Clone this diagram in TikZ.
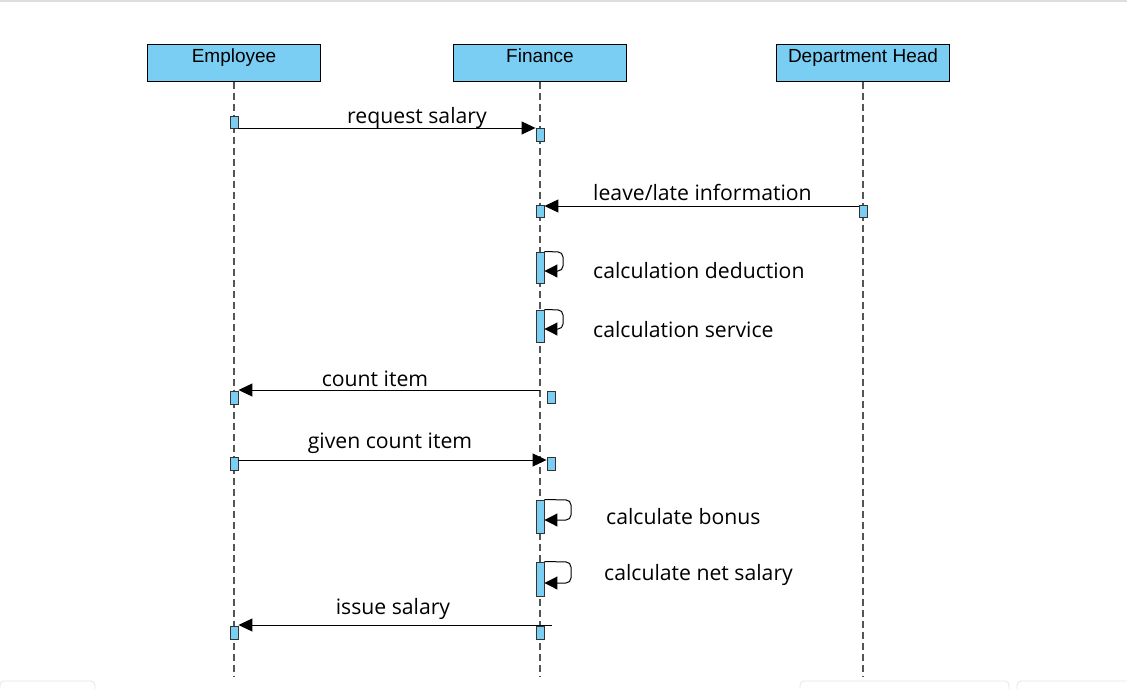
\documentclass[tikz,border=0pt]{standalone}
\usepackage{fontspec}
\setmainfont{Open Sans}
\newfontfamily\headfont{Liberation Sans}
\usetikzlibrary{arrows.meta}
\definecolor{actblue}{RGB}{122,206,244}
\definecolor{lifegray}{RGB}{85,85,85}
\tikzset{
  x=1pt, y=-1pt,
  header/.style={draw=black, line width=1pt, fill=actblue, minimum width=173pt, minimum height=37pt, inner sep=0pt},
  headtxt/.style={font=\headfont\fontsize{19}{22}\selectfont, inner sep=0pt, anchor=base},
  lifeline/.style={draw=lifegray, line width=1.3pt, dash pattern=on 7pt off 4pt},
  act/.style={draw=black!80, line width=0.9pt, fill=actblue, inner sep=0pt, minimum width=8pt},
  msg/.style={draw=black, line width=1pt, -{Triangle[length=14pt,width=13pt]}},
  selfmsg/.style={draw=black, line width=1pt, rounded corners=5pt, -{Triangle[length=13pt,width=13pt]}},
  lbl/.style={font=\fontsize{21.2}{25}\selectfont, inner sep=0pt, anchor=base},
  lblw/.style={lbl, anchor=base west},
  artifact/.style={draw=black!10, line width=0.8pt, rounded corners=4pt}
}
\begin{document}
\begin{tikzpicture}
\useasboundingbox (0,0) rectangle (1127,688);
\draw[draw=black!13, line width=2pt] (0,1) -- (1127,1);
\draw[artifact] (0,681) rectangle (95,700);
\draw[artifact] (800,681) rectangle (1009,700);
\draw[artifact] (1017,681) rectangle (1140,700);

% headers
\node[header] (emp) at (234,62.5) {};
\node[header] (fin) at (540,62.5) {};
\node[header] (dep) at (863,62.5) {};
\node[headtxt] (empT) at (234,62) {Employee};
\node[headtxt] (finT) at (540,62) {Finance};
\node[headtxt] (depT) at (863,62) {Department Head};

\coordinate (empE) at (234,676);
\coordinate (finE) at (540,676);
\coordinate (depE) at (863,676);
\draw[lifeline] (emp.south) -- (empE);
\draw[lifeline] (fin.south) -- (finE);
\draw[lifeline] (dep.south) -- (depE);

% 1 request salary
\node[act, minimum height=12pt] (a1) at (234,122) {};
\node[act, minimum height=13pt] (b1) at (540,134.5) {};
\draw[msg] (a1.east |- 0,128) -- (b1.west |- 0,128);
\node[lbl] (l1) at (417,123.5) {request salary};

% 2 leave/late
\node[act, minimum height=12pt] (d2) at (863,211) {};
\node[act, minimum height=12pt] (b2) at (540,211) {};
\draw[msg] (d2.west |- 0,206) -- (b2.east |- 0,206);
\node[lblw] (l2) at (593,200.5) {leave/late information};

% 3 calculation deduction
\node[act, minimum height=31pt] (b3) at (540,267.5) {};
\draw[selfmsg] (b3.north east) -- (563,252) -- (563,271) -- (b3.east |- 0,271);
\node[lblw] (l3) at (593,278.5) {calculation deduction};

% 4 calculation service
\node[act, minimum height=32pt] (b4) at (540,326) {};
\draw[selfmsg] (b4.north east) -- (563,310) -- (563,329) -- (b4.east |- 0,329);
\node[lblw] (l4) at (593,337.5) {calculation service};

% 5 count item
\node[act, minimum height=13pt] (a5) at (234,397.5) {};
\node[act, minimum height=12pt] (b5) at (551,397) {};
\coordinate (s5) at (540,390);
\draw[msg] (s5) -- (a5.east |- 0,390);
\node[lbl] (l5) at (375,386.5) {count item};

% 6 given count item
\node[act, minimum height=13pt] (a6) at (234,463.5) {};
\node[act, minimum height=13pt] (b6) at (551,463.5) {};
\draw[msg] (a6.east |- 0,460) -- (b6.west |- 0,460);
\node[lbl] (l6) at (390,448.5) {given count item};

% 7 calculate bonus
\node[act, minimum height=33pt] (b7) at (540,516.5) {};
\draw[selfmsg] (b7.north east) -- (571,500) -- (571,520) -- (b7.east |- 0,520);
\node[lblw] (l7) at (606,524.5) {calculate bonus};

% 8 calculate net salary
\node[act, minimum height=34pt] (b8) at (540,579) {};
\draw[selfmsg] (b8.north east) -- (571,562) -- (571,583) -- (b8.east |- 0,583);
\node[lblw] (l8) at (604,580.5) {calculate net salary};

% 9 issue salary
\node[act, minimum height=13pt] (a9) at (234,632.5) {};
\node[act, minimum height=13pt] (b9) at (540,632.5) {};
\coordinate (s9) at (552,625);
\draw[msg] (s9) -- (a9.east |- 0,625);
\node[lbl] (l9) at (393,614.5) {issue salary};
\end{tikzpicture}
\end{document}
